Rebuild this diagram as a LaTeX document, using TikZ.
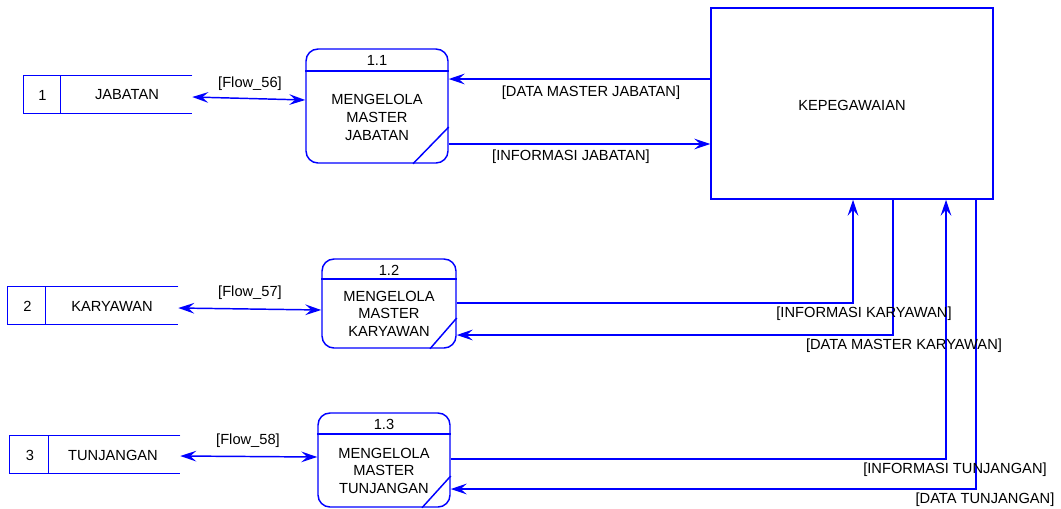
\documentclass[tikz,border=0pt]{standalone}
\usepackage{fontspec}
\setmainfont{Liberation Sans}
\usetikzlibrary{arrows.meta,calc}
\definecolor{dfd}{RGB}{0,0,255}
\begin{document}
\begin{tikzpicture}[x=0.75pt,y=-0.75pt,
  line/.style={draw=dfd,line width=1.1pt},
  tip/.tip={Stealth[length=12pt,width=8pt,inset=4.5pt]},
  flow/.style={line,-tip},
  twoway/.style={line,tip-tip},
  txt/.style={font=\fontsize{11}{13}\selectfont,inner sep=0pt},
  proc/.style={draw=dfd,line width=1.1pt,rounded corners=9pt,inner sep=0pt},
  store/.style={inner sep=0pt,minimum height=27.75pt},
  entity/.style={draw=dfd,line width=1.1pt,inner sep=0pt}
]
\useasboundingbox (0,0) rectangle (1061,508);

% external entity
\node[entity,minimum width=211.5pt,minimum height=143.25pt] (kep) at (852,103.5) {};
\node[txt] (kept) at (852,105) {KEPEGAWAIAN};

% processes
\node[proc,minimum width=106.5pt,minimum height=85.5pt] (p11) at (377,106) {};
\node[proc,minimum width=100.5pt,minimum height=66.75pt] (p12) at (389,303.5) {};
\node[proc,minimum width=99pt,minimum height=70.5pt] (p13) at (384,460) {};

\draw[line] (p11.west |- 0,71) -- (p11.east |- 0,71);
\draw[line] (p12.west |- 0,279) -- (p12.east |- 0,279);
\draw[line] (p13.west |- 0,434) -- (p13.east |- 0,434);
\draw[line] (p11.south -| 413,0) -- (p11.east |- 0,127);
\draw[line] (p12.south -| 430,0) -- (p12.east |- 0,318);
\draw[line] (p13.south -| 422,0) -- (p13.east |- 0,476);

\node[txt] (p11n) at (377,60) {1.1};
\node[txt] (p12n) at (389,270) {1.2};
\node[txt] (p13n) at (384,424) {1.3};
\node[txt,align=center,font=\fontsize{11}{13.5}\selectfont] (p11t) at (377,117) {MENGELOLA\\MASTER\\JABATAN};
\node[txt,align=center,font=\fontsize{11}{13.1}\selectfont] (p12t) at (389,313.5) {MENGELOLA\\MASTER\\KARYAWAN};
\node[txt,align=center,font=\fontsize{11}{13.1}\selectfont] (p13t) at (384,470.5) {MENGELOLA\\MASTER\\TUNJANGAN};

% data stores
\node[store,minimum width=126pt] (ds1) at (108,94.5) {};
\node[store,minimum width=127.5pt] (ds2) at (93,305.5) {};
\node[store,minimum width=127.5pt] (ds3) at (95,454.5) {};
\foreach \s/\d in {ds1/37,ds2/38,ds3/39}{
  \draw[line] (\s.north east) -- (\s.north west) -- (\s.south west) -- (\s.south east);
  \draw[line] ($(\s.north west)+(\d,0)$) -- ($(\s.south west)+(\d,0)$);
}
\node[txt] (ds1n) at (42.5,95) {1};
\node[txt] (ds1t) at (127,95) {JABATAN};
\node[txt] (ds2n) at (27.5,306) {2};
\node[txt] (ds2t) at (112,306) {KARYAWAN};
\node[txt] (ds3n) at (30,455) {3};
\node[txt] (ds3t) at (113,455) {TUNJANGAN};

% store <-> process flows
\draw[twoway] (ds1.east |- 0,97) -- (p11.west |- 0,100);
\draw[twoway] (ds2.east |- 0,308) -- (p12.west |- 0,310);
\draw[twoway] (ds3.east |- 0,456) -- (p13.west |- 0,457);
\node[txt] (f56) at (250,84) {[Flow\_56]};
\node[txt] (f57) at (250,293) {[Flow\_57]};
\node[txt] (f58) at (248,441) {[Flow\_58]};

% entity <-> process flows
\draw[flow] (kep.west |- 0,79) -- (p11.east |- 0,79);
\draw[flow] (p11.east |- 0,144) -- (kep.west |- 0,144);
\node[txt] (l1) at (591,93) {[DATA MASTER JABATAN]};
\node[txt] (l2) at (571,157) {[INFORMASI JABATAN]};

\draw[flow] (p12.east |- 0,303) -| (kep.south -| 853,0);
\draw[flow] (kep.south -| 893,0) |- (p12.east |- 0,335);
\draw[flow] (p13.east |- 0,459) -| (kep.south -| 946,0);
\draw[flow] (kep.south -| 976,0) |- (p13.east |- 0,489);
\node[txt] (l3) at (864,314) {[INFORMASI KARYAWAN]};
\node[txt] (l4) at (904,346) {[DATA MASTER KARYAWAN]};
\node[txt] (l5) at (955,470) {[INFORMASI TUNJANGAN]};
\node[txt] (l6) at (985,500) {[DATA TUNJANGAN]};
\end{tikzpicture}
\end{document}
